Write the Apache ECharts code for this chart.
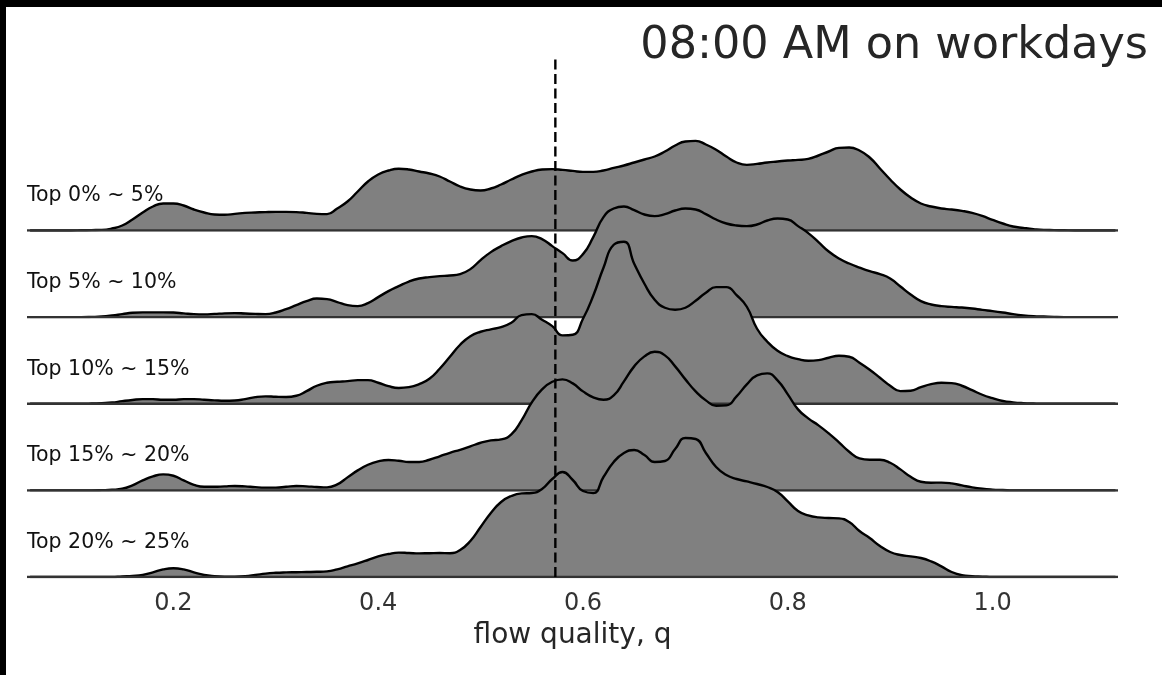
<!DOCTYPE html>
<html>
<head>
<meta charset="utf-8">
<script src="https://cdn.jsdelivr.net/npm/echarts@6.0.0/dist/echarts.min.js"></script>
<style>
  html, body { margin: 0; padding: 0; background: #000; }
  #chart { position: absolute; left: 6px; top: 7px; width: 1156px; height: 668px; background: #fff; }
</style>
</head>
<body>
<div id="chart"></div>
<script>
// sample positions of the density curves (flow quality q)
const qGrid = [
  0.06, 0.07, 0.08, 0.09, 0.10, 0.11, 0.12, 0.13, 0.14, 0.15,
  0.16, 0.17, 0.18, 0.19, 0.20, 0.21, 0.22, 0.23, 0.24, 0.25,
  0.26, 0.27, 0.28, 0.29, 0.30, 0.31, 0.32, 0.33, 0.34, 0.35,
  0.36, 0.37, 0.38, 0.39, 0.40, 0.41, 0.42, 0.43, 0.44, 0.45,
  0.46, 0.47, 0.48, 0.49, 0.50, 0.51, 0.52, 0.53, 0.54, 0.55,
  0.56, 0.57, 0.58, 0.59, 0.60, 0.61, 0.62, 0.63, 0.64, 0.65,
  0.66, 0.67, 0.68, 0.69, 0.70, 0.71, 0.72, 0.73, 0.74, 0.75,
  0.76, 0.77, 0.78, 0.79, 0.80, 0.81, 0.82, 0.83, 0.84, 0.85,
  0.86, 0.87, 0.88, 0.89, 0.90, 0.91, 0.92, 0.93, 0.94, 0.95,
  0.96, 0.97, 0.98, 0.99, 1.00, 1.01, 1.02, 1.03, 1.04, 1.05,
  1.06, 1.07, 1.08, 1.09, 1.10, 1.11, 1.12
]

const groups = ['Top 0% ~ 5%', 'Top 5% ~ 10%', 'Top 10% ~ 15%', 'Top 15% ~ 20%', 'Top 20% ~ 25%']

const top0to5 = [
  0, 0, 0, 0, 0, 0.01, 0.02, 0.03, 0.1, 0.25,
  0.55, 0.9, 1.2, 1.35, 1.35, 1.25, 1.05, 0.9, 0.8, 0.79,
  0.83, 0.88, 0.9, 0.92, 0.93, 0.93, 0.92, 0.88, 0.83, 0.82,
  1.1, 1.45, 1.95, 2.45, 2.8, 3.0, 3.09, 3.05, 2.95, 2.85,
  2.7, 2.45, 2.2, 2.05, 2.0, 2.1, 2.3, 2.55, 2.78, 2.95,
  3.05, 3.07, 3.03, 2.98, 2.93, 2.93, 3.0, 3.13, 3.25, 3.4,
  3.55, 3.7, 3.95, 4.25, 4.45, 4.48, 4.3, 4.04, 3.7, 3.4,
  3.28, 3.33, 3.4, 3.45, 3.5, 3.53, 3.58, 3.75, 3.95, 4.13,
  4.15, 4.0, 3.65, 3.1, 2.55, 2.05, 1.65, 1.35, 1.2, 1.1,
  1.05, 0.98, 0.88, 0.73, 0.53, 0.35, 0.2, 0.13, 0.07, 0.03,
  0.02, 0.01, 0, 0, 0, 0, 0
]
const top5to10 = [
  0, 0, 0, 0, 0, 0, 0.01, 0.03, 0.08, 0.15,
  0.22, 0.24, 0.24, 0.24, 0.23, 0.19, 0.15, 0.14, 0.16, 0.19,
  0.2, 0.18, 0.16, 0.15, 0.23, 0.4, 0.6, 0.8, 0.93, 0.9,
  0.75, 0.6, 0.55, 0.7, 1.0, 1.3, 1.55, 1.78, 1.93, 2.0,
  2.05, 2.08, 2.15, 2.4, 2.85, 3.25, 3.55, 3.8, 3.98, 4.05,
  3.9, 3.55, 3.2, 2.83, 3.15, 4.0, 5.0, 5.43, 5.53, 5.35,
  5.13, 5.05, 5.15, 5.33, 5.43, 5.38, 5.15, 4.88, 4.68, 4.58,
  4.55, 4.63, 4.83, 4.93, 4.88, 4.55, 4.2, 3.75, 3.28, 2.93,
  2.68, 2.48, 2.3, 2.15, 1.93, 1.53, 1.13, 0.8, 0.63, 0.55,
  0.51, 0.48, 0.43, 0.36, 0.3, 0.23, 0.15, 0.09, 0.05, 0.03,
  0.01, 0, 0, 0, 0, 0, 0
]
const top10to15 = [
  0, 0, 0, 0, 0, 0, 0.01, 0.03, 0.06, 0.13,
  0.19, 0.23, 0.23, 0.2, 0.2, 0.23, 0.23, 0.2, 0.17, 0.15,
  0.16, 0.23, 0.33, 0.37, 0.35, 0.34, 0.4, 0.63, 0.9, 1.05,
  1.1, 1.13, 1.18, 1.18, 1.05, 0.88, 0.79, 0.83, 0.98, 1.25,
  1.75, 2.35, 2.95, 3.38, 3.6, 3.72, 3.83, 4.05, 4.43, 4.48,
  4.2, 3.88, 3.42, 3.45, 4.25, 5.4, 6.8, 7.95, 8.1, 7.0,
  6.0, 5.2, 4.8, 4.7, 4.8, 5.15, 5.55, 5.83, 5.83, 5.43,
  4.85, 3.75, 3.1, 2.65, 2.38, 2.23, 2.15, 2.18, 2.3, 2.4,
  2.35, 2.05, 1.7, 1.3, 0.9, 0.63, 0.65, 0.83, 0.98, 1.05,
  1.03, 0.9, 0.68, 0.45, 0.28, 0.14, 0.07, 0.03, 0.01, 0,
  0, 0, 0, 0, 0, 0, 0
]
const top15to20 = [
  0, 0, 0, 0, 0, 0, 0, 0.01, 0.03, 0.08,
  0.25, 0.5, 0.7, 0.8, 0.73, 0.5, 0.28, 0.18, 0.18, 0.2,
  0.22, 0.2, 0.16, 0.14, 0.14, 0.18, 0.22, 0.2, 0.17, 0.15,
  0.3, 0.65, 1.0, 1.28, 1.45, 1.52, 1.48, 1.42, 1.42, 1.53,
  1.7, 1.88, 2.03, 2.2, 2.38, 2.5, 2.55, 2.8, 3.5, 4.4,
  5.05, 5.43, 5.55, 5.35, 4.95, 4.65, 4.53, 4.75, 5.45, 6.2,
  6.7, 6.93, 6.75, 6.2, 5.55, 4.95, 4.5, 4.23, 4.25, 4.7,
  5.3, 5.75, 5.85, 5.5, 4.8, 4.05, 3.6, 3.25, 2.85, 2.4,
  1.93, 1.6, 1.53, 1.53, 1.38, 1.05, 0.68, 0.43, 0.38, 0.39,
  0.35, 0.25, 0.15, 0.08, 0.04, 0.02, 0, 0, 0, 0,
  0, 0, 0, 0, 0, 0, 0
]
const top20to25 = [
  0, 0, 0, 0, 0, 0, 0, 0, 0, 0.03,
  0.05, 0.1, 0.23, 0.38, 0.44, 0.38, 0.23, 0.1, 0.04, 0.02,
  0.02, 0.04, 0.1, 0.17, 0.21, 0.23, 0.24, 0.25, 0.26, 0.28,
  0.38, 0.53, 0.68, 0.85, 1.03, 1.15, 1.22, 1.2, 1.18, 1.19,
  1.2, 1.19, 1.35, 1.8, 2.5, 3.2, 3.75, 4.05, 4.18, 4.2,
  4.4, 4.9, 5.25, 4.85, 4.3, 4.2, 5.0, 5.75, 6.2, 6.35,
  6.1, 5.75, 5.8, 6.4, 6.95, 6.9, 6.2, 5.5, 5.1, 4.9,
  4.78, 4.65, 4.5, 4.25, 3.78, 3.3, 3.08, 2.98, 2.95, 2.93,
  2.75, 2.3, 1.95, 1.55, 1.25, 1.1, 1.03, 0.95, 0.78, 0.53,
  0.25, 0.09, 0.04, 0.02, 0, 0, 0, 0, 0, 0,
  0, 0, 0, 0, 0, 0, 0
]

const densities = [top0to5, top5to10, top10to15, top15to20, top20to25]
const medianQ = 0.573
const tickValues = [0.2, 0.4, 0.6, 0.8, 1.0]
const xMin = 0.057
const xMax = 1.1225

// layout (px inside the chart box)
const FONT = 'DejaVu Sans'
const gridLeft = 21
const gridRight = 44
const firstBase = 223.5
const rowGap = 86.625
const rowH = 200
const yMax = 10

const chart = echarts.init(document.getElementById('chart'))

const grids = []
const xAxes = []
const yAxes = []
const series = []
const labels = []

densities.forEach((vals, i) => {
    const base = firstBase + i * rowGap
    const last = i === densities.length - 1
    grids.push({ left: gridLeft, right: gridRight, top: base - rowH, height: rowH })
    xAxes.push({
        gridIndex: i, type: 'value', min: xMin, max: xMax,
        show: last,
        axisLine: { show: false },
        axisTick: { show: false },
        splitLine: { show: false },
        axisLabel: {
            show: last, customValues: tickValues,
            formatter: v => v.toFixed(1),
            fontFamily: FONT, fontSize: 24, color: '#333', margin: 15
        },
        name: last ? 'flow quality, q' : '',
        nameLocation: 'middle',
        nameGap: 45,
        nameTextStyle: { fontFamily: FONT, fontSize: 28, color: '#262626' }
    })
    yAxes.push({ gridIndex: i, type: 'value', min: 0, max: yMax, show: false })
    series.push({
        type: 'line', xAxisIndex: i, yAxisIndex: i,
        data: qGrid.map((q, k) => [q, vals[k]]),
        smooth: 0.5, symbol: 'none', z: 10 + i * 3,
        lineStyle: { color: '#000', width: 2.4 },
        areaStyle: { color: '#808080', opacity: 1 }
    })
    series.push({
        type: 'line', xAxisIndex: i, yAxisIndex: i,
        data: [[xMin, 0], [xMax, 0]],
        symbol: 'none', z: 11 + i * 3,
        lineStyle: { color: '#333', width: 2.5 }
    })
    labels.push({
        type: 'text', z: 100,
        style: {
            x: gridLeft, y: base - 34.5, text: groups[i],
            fontFamily: FONT, fontSize: 20.5, fill: '#111',
            verticalAlign: 'middle'
        }
    })
})

// full-height grid for the dashed median line
const lastBase = firstBase + (densities.length - 1) * rowGap
grids.push({ left: gridLeft, right: gridRight, top: 50, height: lastBase - 50 })
xAxes.push({ gridIndex: 5, type: 'value', min: xMin, max: xMax, show: false })
yAxes.push({ gridIndex: 5, type: 'value', min: 0, max: 1, show: false })
series.push({
    type: 'line', xAxisIndex: 5, yAxisIndex: 5,
    data: [[medianQ, 0], [medianQ, 1]],
    symbol: 'none', z: 50,
    lineStyle: { color: '#000', width: 2.4, type: [10, 4.5] }
})

chart.setOption({
    animation: false,
    backgroundColor: '#fff',
    title: {
        text: '08:00 AM on workdays',
        right: 14, top: 17, padding: 0,
        textStyle: { fontFamily: FONT, fontSize: 44.5, fontWeight: 'normal', color: '#262626' }
    },
    grid: grids,
    xAxis: xAxes,
    yAxis: yAxes,
    series: series,
    graphic: labels
})
</script>
</body>
</html>
